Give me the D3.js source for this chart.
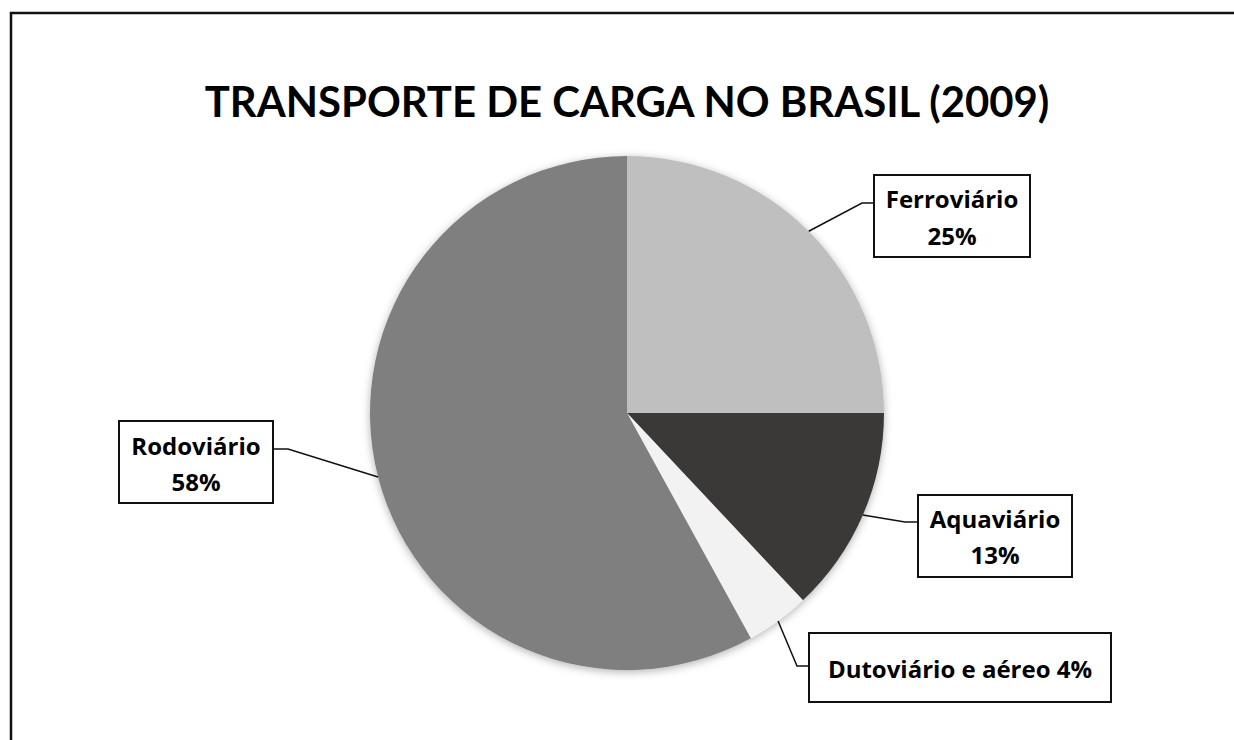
<!DOCTYPE html>
<html>
<head>
<meta charset="utf-8">
<script src="https://cdn.jsdelivr.net/npm/d3@7"></script>
<style>
  body { margin: 0; background: #fff; }
  text { font-family: "Open Sans", Lato, sans-serif; font-weight: bold; fill: #000; }
  .title { font-family: Lato, "Open Sans", sans-serif; }
</style>
</head>
<body>
<div id="chart"></div>
<script>
const title = "TRANSPORTE DE CARGA NO BRASIL (2009)";
const categories = ["Ferroviário", "Aquaviário", "Dutoviário e aéreo", "Rodoviário"];
const shares = [25, 13, 4, 58];
const labelLines = [["Ferroviário", "25%"], ["Aquaviário", "13%"], ["Dutoviário e aéreo 4%"], ["Rodoviário", "58%"]];

const width = 1234, height = 740;
const cx = 627, cy = 413, radius = 257;

const colors = {
    "Ferroviário": "#bfbfbf",
    "Aquaviário": "#3b3838",
    "Dutoviário e aéreo": "#f2f2f2",
    "Rodoviário": "#7f7f7f"
};

// label boxes: x, y, w, h, elbow point, text baselines
const boxes = [
    {x: 874, y: 175, w: 156, h: 82, elbow: [862, 203], base: [208, 245]},
    {x: 918, y: 495, w: 154, h: 82, elbow: [905, 522], base: [528, 564]},
    {x: 809, y: 633, w: 302, h: 69, elbow: [797, 666], base: [678]},
    {x: 119, y: 421, w: 154, h: 82, elbow: [288, 449], base: [455, 491]}
];

const svg = d3.select("#chart")
    .append("svg")
    .attr("width", width)
    .attr("height", height);

const defs = svg.append("defs");
const shadow = defs.append("filter")
    .attr("id", "shadow")
    .attr("x", "-10%").attr("y", "-10%")
    .attr("width", "120%").attr("height", "120%");
shadow.append("feDropShadow")
    .attr("dx", 0).attr("dy", 2)
    .attr("stdDeviation", 4)
    .attr("flood-color", "#000")
    .attr("flood-opacity", 0.3);

// outer frame (runs off the right and bottom edges)
svg.append("rect")
    .attr("x", 11).attr("y", 13)
    .attr("width", 1240).attr("height", 740)
    .attr("fill", "none")
    .attr("stroke", "#111")
    .attr("stroke-width", 2.5);

// size a text so its natural width fits the target
function fitSize(sel, target, maxSize) {
    sel.style("font-size", "100px");
    const w = sel.node().getComputedTextLength();
    sel.style("font-size", Math.min(maxSize, 100 * target / w) + "px");
}

const titleText = svg.append("text")
    .attr("class", "title")
    .attr("x", 627)
    .attr("y", 117)
    .attr("text-anchor", "middle")
    .text(title);
fitSize(titleText, 845, 58);

const data = categories.map((c, i) => ({name: c, value: shares[i], lines: labelLines[i], box: boxes[i]}));

const pie = d3.pie()
    .value(d => d.value)
    .sort(null);

const arc = d3.arc()
    .innerRadius(0)
    .outerRadius(radius);

const g = svg.append("g")
    .attr("transform", `translate(${cx},${cy})`);

const arcs = pie(data);

g.append("g")
    .attr("filter", "url(#shadow)")
    .selectAll("path")
    .data(arcs)
    .join("path")
    .attr("d", arc)
    .attr("fill", d => colors[d.data.name]);

// leader lines and label boxes
arcs.forEach(a => {
    const mid = (a.startAngle + a.endAngle) / 2;
    const px = cx + radius * Math.sin(mid);
    const py = cy - radius * Math.cos(mid);
    const b = a.data.box;
    const onLeft = b.x + b.w < cx;
    const edgeX = onLeft ? b.x + b.w : b.x;

    svg.append("polyline")
        .attr("points", [[px, py], b.elbow, [edgeX, b.elbow[1]]].map(p => p.join(",")).join(" "))
        .attr("fill", "none")
        .attr("stroke", "#111")
        .attr("stroke-width", 1.5);

    svg.append("rect")
        .attr("x", b.x).attr("y", b.y)
        .attr("width", b.w).attr("height", b.h)
        .attr("fill", "#fff")
        .attr("stroke", "#111")
        .attr("stroke-width", 2);

    a.data.lines.forEach((line, i) => {
        const t = svg.append("text")
            .attr("x", b.x + b.w / 2)
            .attr("y", b.base[i])
            .attr("text-anchor", "middle")
            .text(line);
        fitSize(t, b.w - 20, 24);
    });
});
</script>
</body>
</html>
